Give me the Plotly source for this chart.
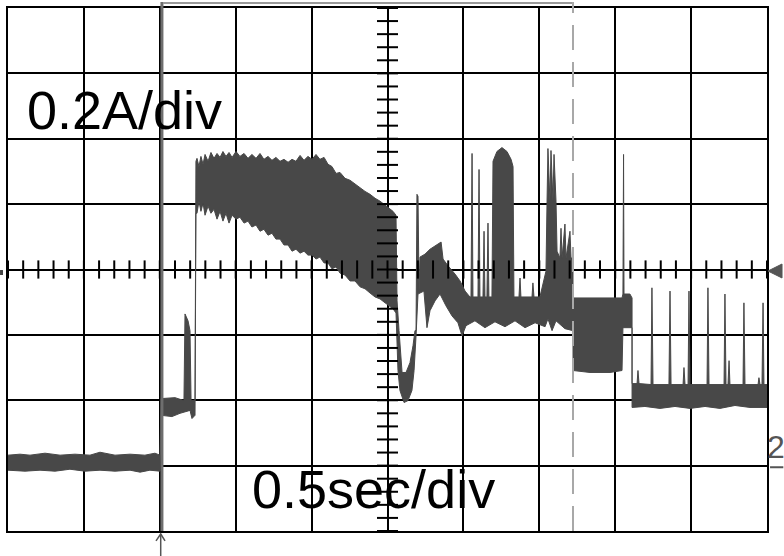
import numpy as np
import plotly.graph_objects as go

# Oscilloscope capture: current (A) vs time (s); 0.2 A/div, 0.5 s/div
# Upper envelope of the noisy trace
t_upper = [0, 0.079, 0.145, 0.244, 0.343, 0.441, 0.540, 0.606, 0.705, 0.804, 0.902, 0.968, 1.001,
           1.008, 1.100, 1.159, 1.166, 1.186, 1.199, 1.206, 1.232,
           1.238, 1.245, 1.258, 1.271, 1.285, 1.298, 1.318, 1.337, 1.357, 1.377,
           1.397, 1.416, 1.436, 1.456, 1.476, 1.502, 1.528, 1.555, 1.581, 1.607,
           1.634, 1.660, 1.686, 1.713, 1.739, 1.765, 1.792, 1.818, 1.845, 1.871,
           1.897, 1.924, 1.950, 1.976, 2.003, 2.029, 2.055, 2.082, 2.108, 2.134,
           2.161, 2.187, 2.220, 2.253, 2.286, 2.319, 2.352, 2.385, 2.418, 2.451,
           2.484, 2.516, 2.536, 2.556,
           2.563, 2.576, 2.596, 2.622, 2.648, 2.668, 2.681, 2.688, 2.694, 2.701,
           2.708, 2.714, 2.747, 2.780, 2.826, 2.853, 2.866, 2.899, 2.945, 2.978,
           3.011, 3.043, 3.050, 3.057, 3.063, 3.096, 3.103, 3.109, 3.129, 3.136,
           3.142, 3.155, 3.162, 3.168, 3.188, 3.195, 3.221, 3.254, 3.287, 3.314,
           3.327, 3.333, 3.366, 3.373, 3.379, 3.452, 3.458, 3.465, 3.504, 3.524,
           3.544, 3.551, 3.557, 3.570, 3.577, 3.590, 3.597, 3.610, 3.617, 3.636,
           3.643, 3.650, 3.669, 3.676, 3.702, 3.709, 3.722,
           3.722, 3.900, 4.045, 4.051, 4.055, 4.058, 4.097, 4.111,
           4.111, 4.144, 4.150, 4.157, 4.236, 4.242, 4.249, 4.354, 4.361, 4.368,
           4.447, 4.453, 4.460, 4.480, 4.486, 4.493, 4.605, 4.611, 4.618, 4.717,
           4.723, 4.730, 4.743, 4.750, 4.756, 4.842, 4.848, 4.855, 4.941, 4.947,
           4.954, 4.967, 4.974, 4.980, 5.0]
i_upper = [0.032, 0.035, 0.032, 0.038, 0.032, 0.035, 0.032, 0.041, 0.032, 0.035, 0.032, 0.038, 0.032,
           0.205, 0.208, 0.199, 0.464, 0.443, 0.413, 0.199, 0.199,
           0.931, 0.940, 0.915, 0.946, 0.922, 0.952, 0.931, 0.958, 0.940, 0.955,
           0.943, 0.961, 0.946, 0.958, 0.943, 0.961, 0.946, 0.955, 0.940, 0.952,
           0.940, 0.955, 0.937, 0.946, 0.934, 0.943, 0.931, 0.937, 0.928, 0.937,
           0.931, 0.949, 0.934, 0.946, 0.937, 0.952, 0.937, 0.943, 0.922, 0.915,
           0.894, 0.897, 0.879, 0.873, 0.861, 0.851, 0.839, 0.830, 0.818, 0.809,
           0.797, 0.784, 0.778, 0.766,
           0.504, 0.413, 0.285, 0.285, 0.315, 0.367, 0.413, 0.413, 0.830, 0.824,
           0.534, 0.638, 0.647, 0.662, 0.675, 0.684, 0.632, 0.611, 0.586, 0.565,
           0.534, 0.516, 0.516, 0.955, 0.516, 0.516, 0.906, 0.516, 0.516, 0.717,
           0.516, 0.516, 0.742, 0.516, 0.516, 0.931, 0.961, 0.973, 0.961, 0.937,
           0.915, 0.516, 0.516, 0.574, 0.516, 0.516, 0.559, 0.516, 0.516, 0.559,
           0.595, 0.809, 0.970, 0.809, 0.964, 0.809, 0.952, 0.809, 0.656, 0.635,
           0.726, 0.635, 0.739, 0.635, 0.717, 0.635, 0.635,
           0.513, 0.513, 0.513, 0.525, 0.952, 0.525, 0.525, 0.513,
           0.251, 0.251, 0.291, 0.251, 0.248, 0.544, 0.248, 0.248, 0.534, 0.248,
           0.248, 0.300, 0.248, 0.248, 0.534, 0.248, 0.248, 0.544, 0.248, 0.248,
           0.525, 0.248, 0.248, 0.321, 0.248, 0.248, 0.498, 0.248, 0.248, 0.269,
           0.248, 0.248, 0.498, 0.248, 0.248]

# Lower envelope of the noisy trace
t_lower = [0, 0.112, 0.211, 0.310, 0.408, 0.507, 0.606, 0.705, 0.804, 0.870, 0.935, 1.001,
           1.008, 1.080, 1.133, 1.199, 1.212, 1.232,
           1.238, 1.245, 1.258, 1.271, 1.285, 1.298, 1.318, 1.337, 1.357, 1.377,
           1.397, 1.416, 1.436, 1.456, 1.476, 1.502, 1.528, 1.555, 1.581, 1.607,
           1.634, 1.660, 1.686, 1.713, 1.739, 1.765, 1.792, 1.818, 1.845, 1.871,
           1.897, 1.924, 1.950, 1.976, 2.003, 2.029, 2.055, 2.082, 2.108, 2.134,
           2.161, 2.187, 2.220, 2.253, 2.286, 2.319, 2.352, 2.385, 2.418, 2.451,
           2.484, 2.516, 2.536, 2.556,
           2.569, 2.582, 2.609, 2.635, 2.661, 2.675, 2.688, 2.701, 2.740, 2.760,
           2.780, 2.813, 2.846, 2.885, 2.925, 2.964, 2.991, 3.017, 3.076, 3.142,
           3.208, 3.274, 3.340, 3.406, 3.472, 3.538, 3.557, 3.584, 3.610, 3.669, 3.722,
           3.722, 3.834, 3.966, 4.045, 4.051, 4.111,
           4.111, 4.196, 4.295, 4.394, 4.493, 4.592, 4.690, 4.789, 4.888, 5.0]
i_lower = [-0.014, -0.017, -0.014, -0.017, -0.011, -0.017, -0.014, -0.017, -0.014, -0.020, -0.014, -0.017,
           0.154, 0.150, 0.160, 0.169, 0.144, 0.154,
           0.772, 0.772, 0.809, 0.778, 0.803, 0.766, 0.794, 0.772, 0.784, 0.754,
           0.778, 0.748, 0.772, 0.742, 0.766, 0.754, 0.760, 0.742, 0.748, 0.730,
           0.736, 0.717, 0.723, 0.705, 0.711, 0.693, 0.693, 0.675, 0.675, 0.656,
           0.662, 0.650, 0.656, 0.644, 0.644, 0.632, 0.638, 0.620, 0.620, 0.602,
           0.608, 0.589, 0.583, 0.565, 0.565, 0.547, 0.541, 0.528, 0.516, 0.510,
           0.498, 0.486, 0.480, 0.467,
           0.291, 0.230, 0.193, 0.199, 0.230, 0.291, 0.397, 0.525, 0.534, 0.422,
           0.474, 0.504, 0.525, 0.489, 0.458, 0.437, 0.397, 0.428, 0.443, 0.422,
           0.440, 0.425, 0.443, 0.422, 0.437, 0.425, 0.449, 0.413, 0.443, 0.419, 0.413,
           0.291, 0.285, 0.285, 0.291, 0.422, 0.422,
           0.178, 0.181, 0.175, 0.181, 0.175, 0.181, 0.175, 0.184, 0.178, 0.178]

trigger_time = 1.014
cursor_time = 3.722
volts_div_label = "0.2A/div"
time_div_label = "0.5sec/div"
channel_label = "2"

TRACE = "#484848"

fig = go.Figure()

# Filled envelope of the trace
fig.add_trace(go.Scatter(
    x=t_upper + t_lower[::-1],
    y=i_upper + i_lower[::-1],
    mode="lines", fill="toself", fillcolor=TRACE,
    line=dict(color=TRACE, width=1), hoverinfo="skip", showlegend=False))

# Graticule minor ticks on centre axes
xt = np.arange(0, 5.0001, 0.1)
fig.add_trace(go.Scatter(
    x=xt, y=[0.6] * len(xt), mode="markers",
    marker=dict(symbol="line-ns", size=13, line=dict(color="black", width=2)),
    hoverinfo="skip", showlegend=False))
yt = np.arange(-0.2, 1.4001, 0.04)
fig.add_trace(go.Scatter(
    x=[2.5] * len(yt), y=yt, mode="markers",
    marker=dict(symbol="line-ew", size=15, line=dict(color="black", width=2)),
    hoverinfo="skip", showlegend=False))

# Trigger edge line spanning full screen
fig.add_shape(type="line", xref="x", yref="paper", x0=trigger_time, x1=trigger_time,
              y0=0, y1=1.0115, line=dict(color="#6e6e6e", width=3), layer="above")
# Top memory bar
fig.add_shape(type="line", xref="x", yref="paper", x0=1.021, x1=cursor_time,
              y0=1.0095, y1=1.0095, line=dict(color="#9a9a9a", width=2))
# Dashed cursor
fig.add_shape(type="line", xref="x", yref="paper", x0=cursor_time, x1=cursor_time,
              y0=0, y1=1.0115, line=dict(color="#a8a8a8", width=2, dash="25px,12px"))
# Right-side level marker (triangle)
fig.add_shape(type="path", xref="paper", yref="paper",
              path="M 1.0013 0.4971 L 1.0198 0.5105 L 1.0198 0.4838 Z",
              fillcolor="#555555", line=dict(color="#555555", width=1))
# Left-side small marker
fig.add_shape(type="rect", xref="paper", yref="paper",
              x0=-0.0105, x1=-0.0066, y0=0.4895, y1=0.4990,
              fillcolor="#444444", line=dict(width=0))
# Channel ground underline
fig.add_shape(type="line", xref="paper", yref="paper", x0=1.004, x1=1.0215,
              y0=0.1219, y1=0.1219, line=dict(color="#555555", width=2))
# Trigger arrow at bottom
fig.add_shape(type="line", xref="paper", yref="paper", x0=0.2012, x1=0.2012,
              y0=-0.0057, y1=-0.05, line=dict(color="#555555", width=1.5))
fig.add_shape(type="path", xref="paper", yref="paper",
              path="M 0.1950 -0.0190 L 0.2012 -0.0057 L 0.2069 -0.0190",
              line=dict(color="#555555", width=1.5))

fig.add_annotation(text=volts_div_label, xref="paper", yref="paper",
                   x=0.1535, y=0.8057, xanchor="center", yanchor="middle",
                   showarrow=False,
                   font=dict(family="Liberation Sans, Arial", size=54, color="black"))
fig.add_annotation(text=time_div_label, xref="paper", yref="paper",
                   x=0.4816, y=0.080, xanchor="center", yanchor="middle",
                   showarrow=False,
                   font=dict(family="Liberation Sans, Arial", size=54, color="black"))
fig.add_annotation(text=channel_label, xref="paper", yref="paper",
                   x=1.0119, y=0.161, xanchor="center", yanchor="middle",
                   showarrow=False,
                   font=dict(family="Liberation Sans Narrow, Liberation Sans", size=32,
                             color="#555555"))

fig.update_layout(
    width=784, height=556,
    margin=dict(l=8, r=17, t=6, b=25),
    paper_bgcolor="white", plot_bgcolor="white",
    xaxis=dict(range=[0, 5], dtick=0.5, tick0=0, showgrid=True, gridcolor="black",
               gridwidth=2, showline=True, linecolor="black", linewidth=2, mirror=True,
               zeroline=False, showticklabels=False, ticks="", layer="above traces",
               fixedrange=True),
    yaxis=dict(range=[-0.2, 1.4], dtick=0.2, tick0=0, showgrid=True, gridcolor="black",
               gridwidth=2, showline=True, linecolor="black", linewidth=2, mirror=True,
               zeroline=False, showticklabels=False, ticks="", layer="above traces",
               fixedrange=True),
    showlegend=False,
)

fig.write_html("out.html", config={"displayModeBar": False},
               post_script="document.body.style.margin='0px';document.body.style.overflow='hidden';")
